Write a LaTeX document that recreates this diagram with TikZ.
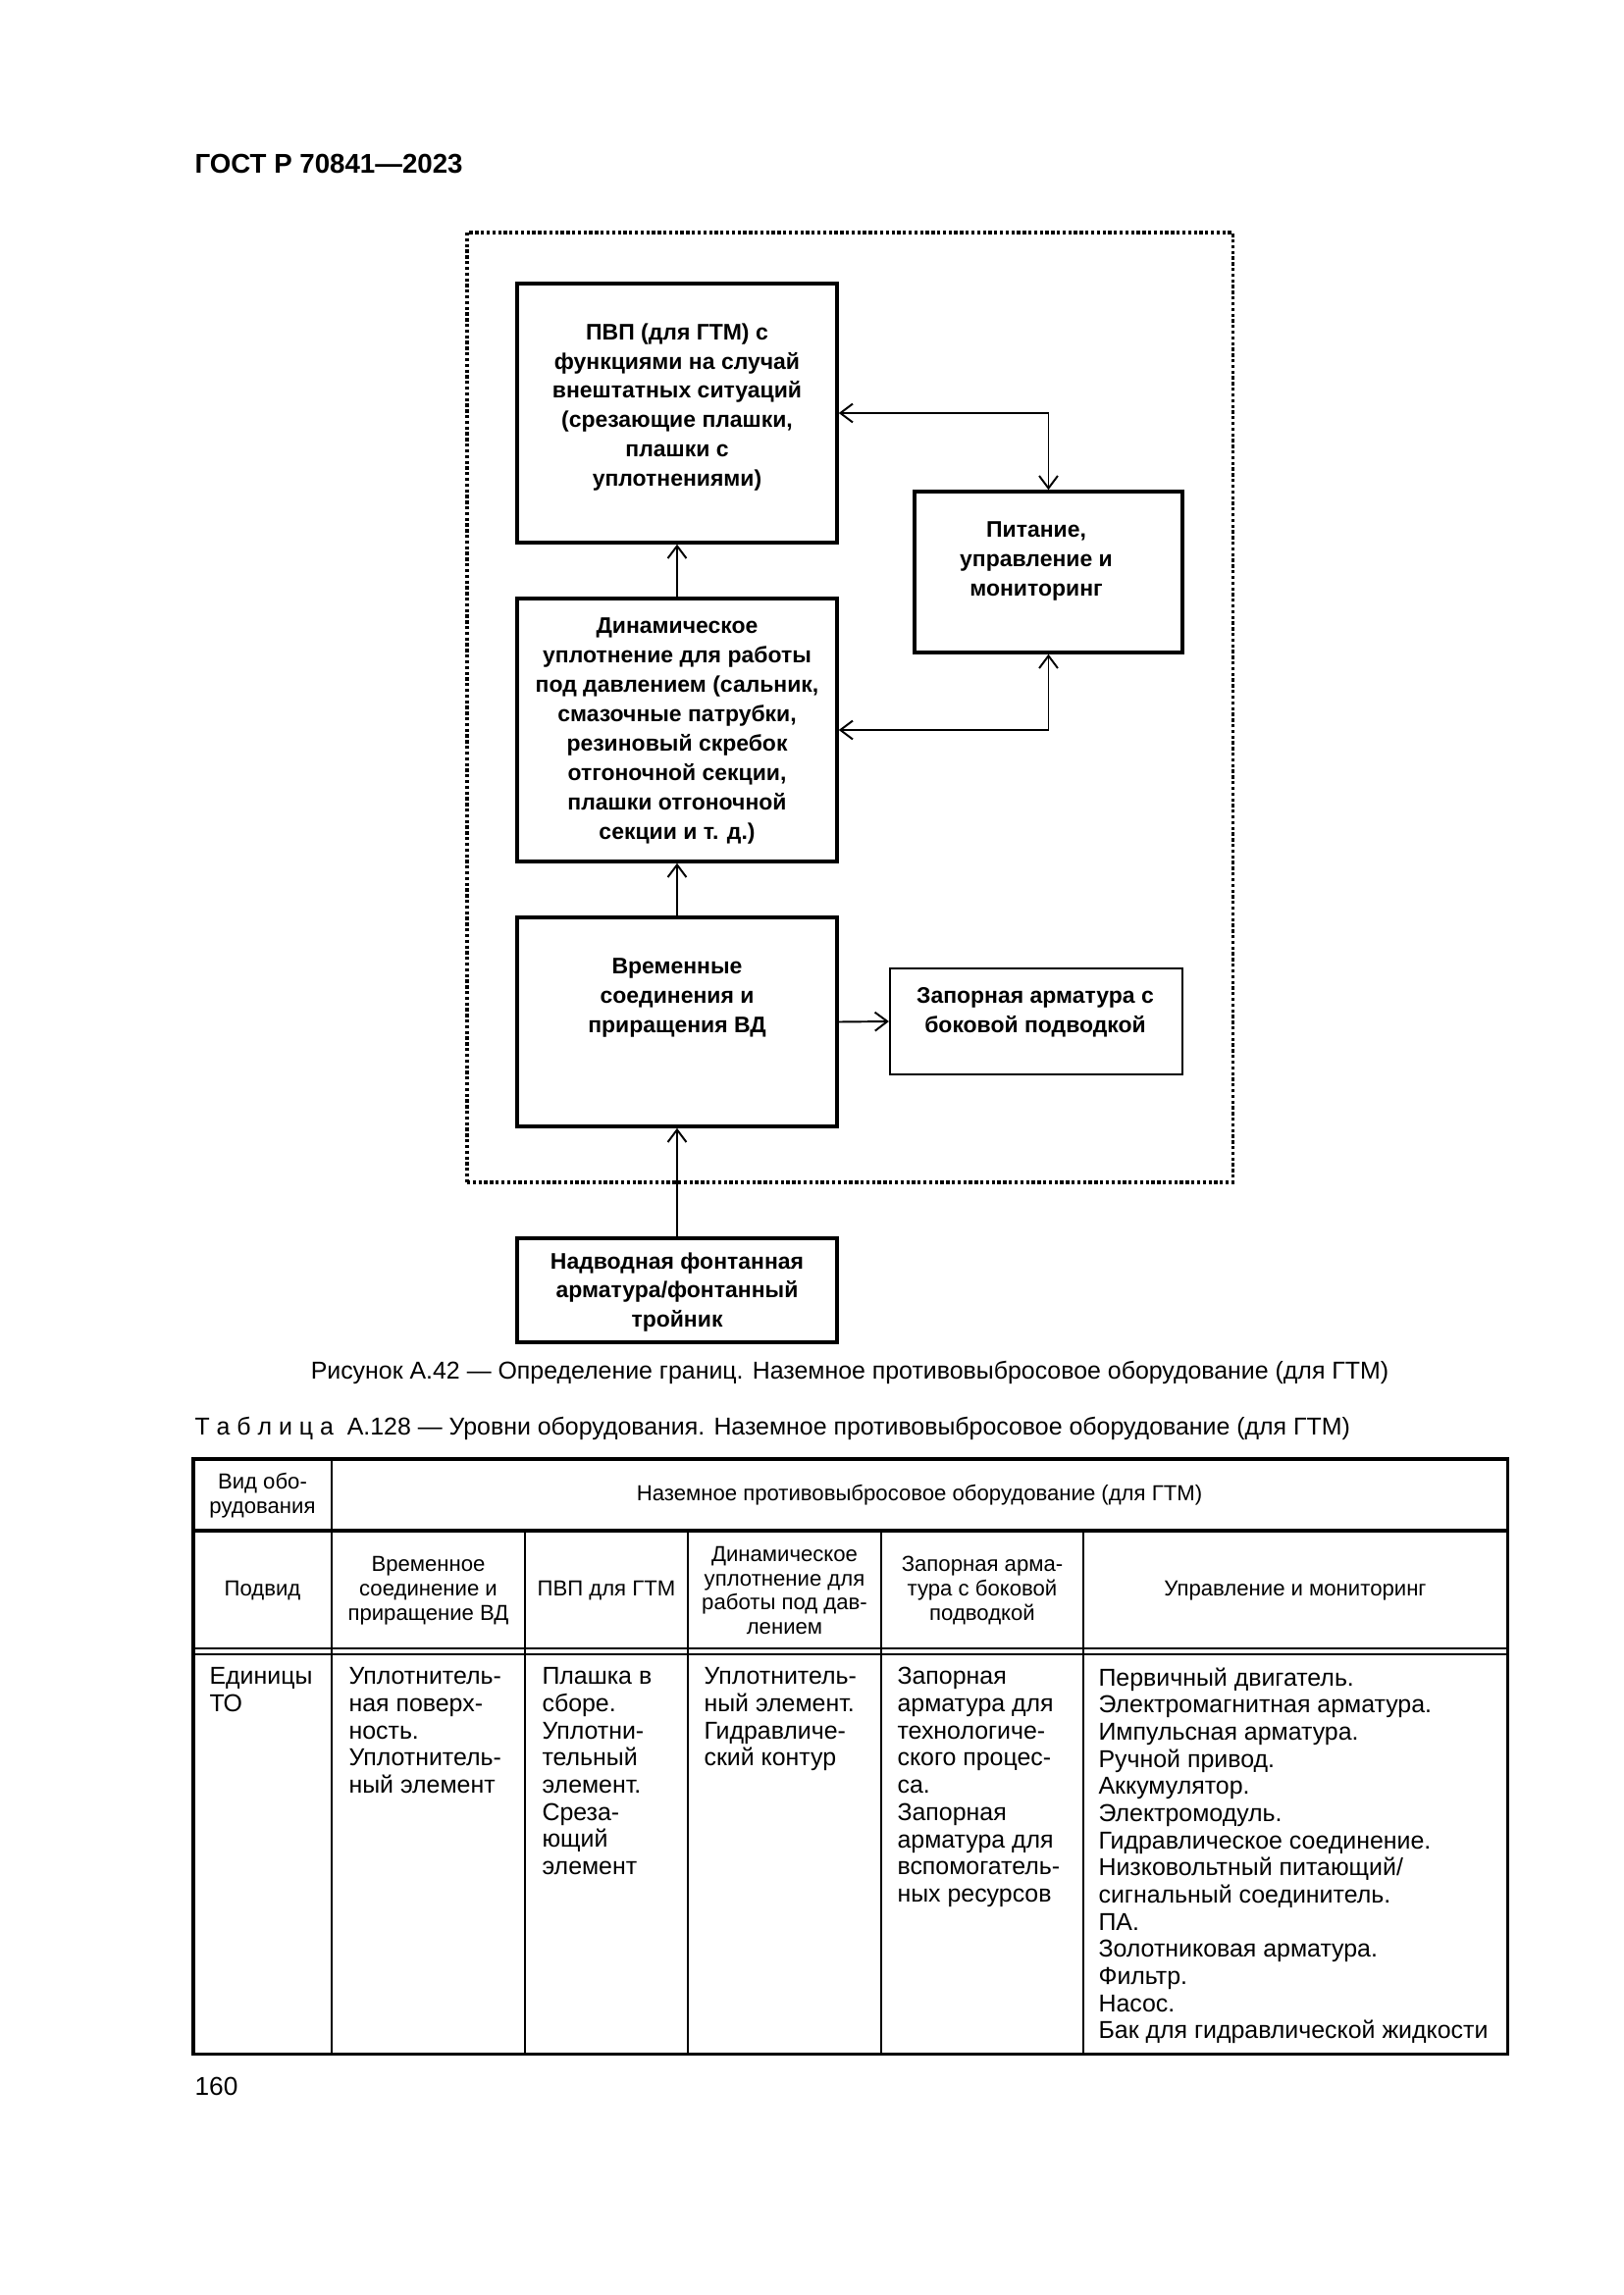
\documentclass[tikz,border=0pt]{standalone}
\usepackage{fontspec}
\setmainfont{Liberation Sans}
\usetikzlibrary{arrows.meta}
\begin{document}
\begin{tikzpicture}[x=0.127mm,y=-0.127mm,
  box/.style={draw, line width=1.3pt, inner sep=0pt},
  thinbox/.style={draw, line width=0.8pt, inner sep=0pt},
  frm/.style={draw, line width=1.1pt, dash pattern=on 1.2pt off 0.9pt, inner sep=0pt},
  btxt/.style={font=\fontsize{8.3}{10.8}\selectfont\bfseries, align=center, inner sep=0pt},
  tip/.tip={Straight Barb[length=1.6mm,width=2.4mm]},
  arr/.style={line width=0.7pt, -tip},
  barr/.style={line width=0.7pt, tip-tip},
  hd/.style={font=\fontsize{8}{9}\selectfont, align=center, inner sep=0pt},
  bd/.style={font=\fontsize{9}{10}\selectfont, align=left, anchor=north west, inner sep=0pt},
  captxt/.style={font=\fontsize{9}{11}\selectfont, inner sep=0pt},
  tline/.style={line width=1.1pt},
  vline/.style={line width=0.6pt},
  dline/.style={line width=0.5pt}
]
\useasboundingbox (0,0) rectangle (1654,2339);

% page header
\node[font=\fontsize{10}{12}\selectfont\bfseries, anchor=west, inner sep=0pt] (hdr) at (198,167) {ГОСТ Р 70841—2023};

% dotted frame
\node[frm, minimum width=780*0.127mm, minimum height=968*0.127mm] (frame) at (866,721) {};

% boxes
\node[box, minimum width=326*0.127mm, minimum height=264*0.127mm] (pvp) at (690,421) {};
\node[box, minimum width=326*0.127mm, minimum height=268*0.127mm] (din) at (690,744) {};
\node[box, minimum width=326*0.127mm, minimum height=213*0.127mm] (vrem) at (690,1041.5) {};
\node[box, minimum width=273*0.127mm, minimum height=164*0.127mm] (pit) at (1068.5,583) {};
\node[thinbox, minimum width=298*0.127mm, minimum height=108*0.127mm] (zap) at (1056,1041) {};
\node[box, minimum width=326*0.127mm, minimum height=106*0.127mm] (nadv) at (690,1315) {};

% box texts
\node[btxt] (pvpt) at (690,415) {ПВП (для ГТМ) с\\функциями на случай\\внештатных ситуаций\\(срезающие плашки,\\плашки с\\уплотнениями)};
\node[btxt] (dint) at (690,745) {Динамическое\\уплотнение для работы\\под давлением (сальник,\\смазочные патрубки,\\резиновый скребок\\отгоночной секции,\\плашки отгоночной\\секции и т. д.)};
\node[btxt] (vremt) at (690,1017) {Временные\\соединения и\\приращения ВД};
\node[btxt] (pitt) at (1056,572) {Питание,\\управление и\\мониторинг};
\node[btxt] (zapt) at (1055,1032) {Запорная арматура с\\боковой подводкой};
\node[btxt] (nadvt) at (690,1317) {Надводная фонтанная\\арматура/фонтанный\\тройник};

% connectors
\draw[arr] (din.north) -- (pvp.south);
\draw[arr] (vrem.north) -- (din.south);
\draw[arr] (nadv.north) -- (vrem.south);
\draw[arr] (vrem.east) -- (zap.west);
\draw[barr] (pvp.east) -| (pit.north);
\draw[barr] (din.east) -| (pit.south);

% captions
\node[captxt] (figcap) at (866,1399) {Рисунок А.42 — Определение границ. Наземное противовыбросовое оборудование (для ГТМ)};
\node[captxt, anchor=west] (tabcap) at (198,1456) {Т а б л и ц а\ \ А.128 — Уровни оборудования. Наземное противовыбросовое оборудование (для ГТМ)};

% table
\draw[tline] (197,1487) rectangle (1536,2093);
\draw[tline] (197,1560) -- (1536,1560);
\draw[dline] (197,1680) -- (1536,1680);
\draw[dline] (197,1686) -- (1536,1686);
\draw[vline] (338,1487) -- (338,2093);
\foreach \x in {535,701,898,1104} \draw[vline] (\x,1560) -- (\x,2093);

\node[hd] (h11) at (267.5,1524) {Вид обо-\\рудования};
\node[hd] (h12) at (937,1524) {Наземное противовыбросовое оборудование (для ГТМ)};
\node[hd] (h21) at (267.5,1621) {Подвид};
\node[hd] (h22) at (436.5,1621) {Временное\\соединение и\\приращение ВД};
\node[hd] (h23) at (618,1621) {ПВП для ГТМ};
\node[hd] (h24) at (799.5,1621) {Динамическое\\уплотнение для\\работы под дав-\\лением};
\node[hd] (h25) at (1001,1621) {Запорная арма-\\тура с боковой\\подводкой};
\node[hd] (h26) at (1320,1621) {Управление и мониторинг};

\node[bd] (b1) at (213,1699) {Единицы\\ТО};
\node[bd] (b2) at (355,1699) {Уплотнитель-\\ная поверх-\\ность.\\Уплотнитель-\\ный элемент};
\node[bd] (b3) at (552,1699) {Плашка в\\сборе.\\Уплотни-\\тельный\\элемент.\\Среза-\\ющий\\элемент};
\node[bd] (b4) at (717,1699) {Уплотнитель-\\ный элемент.\\Гидравличе-\\ский контур};
\node[bd] (b5) at (914,1699) {Запорная\\арматура для\\технологиче-\\ского процес-\\са.\\Запорная\\арматура для\\вспомогатель-\\ных ресурсов};
\node[bd] (b6) at (1119,1699) {Первичный двигатель.\\Электромагнитная арматура.\\Импульсная арматура.\\Ручной привод.\\Аккумулятор.\\Электромодуль.\\Гидравлическое соединение.\\Низковольтный питающий/\\сигнальный соединитель.\\ПА.\\Золотниковая арматура.\\Фильтр.\\Насос.\\Бак для гидравлической жидкости};

\node[font=\fontsize{9.5}{11}\selectfont, anchor=west, inner sep=0pt] (pgno) at (198,2126) {160};
\end{tikzpicture}
\end{document}
